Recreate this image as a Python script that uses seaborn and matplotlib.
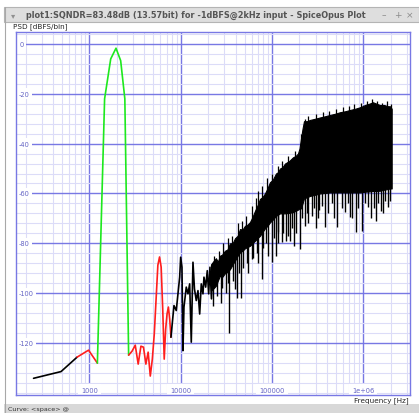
import matplotlib
matplotlib.use("Agg")
import matplotlib.pyplot as plt
from matplotlib.patches import Rectangle
from matplotlib.lines import Line2D
from matplotlib.ticker import FixedLocator, LogLocator, MultipleLocator, NullFormatter
import matplotlib.transforms as mtransforms
import seaborn as sns

# ---- data (frequency in Hz, PSD in dBFS/bin) ----
low_black_f = [244, 488, 732]
low_black_db = [-134.2, -131.5, -125.7]

low_red_f = [732, 977, 1221]
low_red_db = [-125.7, -122.9, -128.1]

signal_f = [1221, 1465, 1709, 1953, 2197, 2441, 2686]
signal_db = [-128.1, -22.0, -6.0, -1.7, -6.7, -22.0, -124.9]

harm_f = [2686, 2930, 3174, 3418, 3662, 3906, 4150, 4395, 4639, 4883, 5127,
          5371, 5615, 5859, 6104, 6348, 6592, 6836, 7080, 7324, 7568, 7813]
harm_db = [-124.9, -123.3, -120.9, -128.5, -121.3, -121.7, -128.5, -123.7, -133.3,
           -126.5, -116.5, -102.4, -88.8, -85.5, -89.6, -106.4, -126.5, -114.5,
           -108.4, -105.6, -110.4, -117.7]

noise_f = [7813, 8430, 8933, 9444, 9734, 9982, 10315, 10578, 10848, 11497, 12003,
           12527, 13045, 13614, 14137, 14795, 15446, 16126, 16791, 17524, 17968,
           18758, 19532, 20230, 20902, 21710, 22546]
noise_db = [-117.7, -105.0, -107.0, -98.3, -93.6, -85.6, -89.6, -123.1, -105.6,
            -97.6, -100.3, -96.3, -119.7, -87.6, -98.3, -103.0, -99.0, -108.4,
            -96.3, -100.3, -93.6, -97.6, -91.0, -100.3, -89.6, -102.3, -88.3]

# dense noise band: envelope of the solid black region
band_f = [21440, 23000, 24320, 25500, 26900, 28500, 30520, 32500, 34630, 37000,
          39290, 42000, 44570, 47500, 50540, 54000, 57350, 61000, 65070, 69000,
          73830, 78500, 83760, 89000, 95000, 102000, 110500, 116000, 122200,
          130000, 138700, 154000, 169700, 181000, 192400, 200000, 207600, 216000,
          224000, 242000, 260600, 298000, 335400, 383000, 431500, 493000, 555500,
          635000, 715000, 817000, 919900, 980000, 1043500, 1160000, 1276800,
          1400000, 1523600, 1690000, 1864400, 1960000, 2047700]
band_hi = [-88.5, -87, -86, -87.5, -85, -84.5, -83, -82.5, -80, -80, -78, -77,
           -74.3, -74.5, -73, -72.5, -71.5, -69.5, -67, -65, -62.2, -61.5, -60, -58,
           -55.5, -54.5, -52, -51.5, -50, -49.5, -48, -47, -45.5, -45, -44, -42,
           -38, -34, -31, -31, -30.5, -30, -29.5, -29, -28.5, -28, -27.4, -27,
           -26.5, -26, -25.4, -25, -24.5, -24, -23.4, -24, -24.5, -24.5, -25, -25,
           -26]
band_lo = [-99, -98, -97, -95, -93, -93.5, -92, -91.5, -90.4, -88.5, -87, -85,
           -83.7, -83, -82, -81.5, -81, -80, -79, -78, -77, -75.5, -74, -73, -71.6,
           -70.5, -69, -68.5, -68, -68, -68, -67.8, -67.5, -67, -66.5, -66, -66,
           -64, -62, -61.5, -61, -60.5, -60, -59.8, -59.6, -59.6, -59.6, -59.6,
           -59.6, -59.6, -59.6, -59.5, -59.3, -59.2, -59, -59, -58.9, -58.5, -58.2,
           -58, -58]

# downward spikes out of the band
spike_f = [22720, 25000, 27590, 28500, 31000, 33000, 34020, 37000, 39290, 41630,
           43000, 45700, 48000, 53000, 55000, 59850, 62000, 68000, 70000, 77040,
           80000, 87000, 90000, 99160, 105000, 110500, 115000, 117100, 127600,
           132000, 142000, 148400, 157300, 165000, 175300, 185000, 202500, 215000,
           229700, 240000, 250000, 272000, 285000, 303200, 320000, 329500, 350000,
           380500, 410000, 450000, 480000, 518800, 580000, 630100, 680000, 715000,
           760000, 831800, 880000, 974800, 1050000, 1134200, 1200000, 1300000,
           1377200, 1450000, 1550400, 1650000, 1750000, 1878500, 1950000]
spike_lo = [-105, -101, -104, -98, -100, -96, -116, -95, -98.4, -102, -92, -102,
            -90, -88, -92, -86.3, -86, -84, -88, -94.4, -82, -80, -85, -87.7, -78,
            -85, -80, -75.5, -79.6, -76, -79, -77, -79, -74, -81, -76, -82.3, -70,
            -73, -68, -72, -69, -66, -74, -70, -66.5, -65, -73.6, -68, -64, -70,
            -73.6, -66, -67.6, -64, -69.4, -70, -75.6, -66, -75, -64, -65.5, -70,
            -66, -71, -64, -67, -68, -63, -65.6, -63]
spike_hi = [-95, -94, -92, -91, -90, -89, -88, -86, -85, -84, -83, -82, -81, -80,
            -80, -79, -78, -77, -76, -74, -73, -71, -70, -69, -68, -67, -66, -66,
            -66, -66, -66, -66, -65, -65, -64, -64, -63, -61, -59, -59, -59, -59,
            -58, -58, -58, -58, -57, -57, -57, -57, -57, -57, -57, -57, -57, -57,
            -57, -57, -57, -57, -57, -57, -57, -56, -56, -56, -56, -56, -56, -56,
            -56]

# short upward hairs along the top of the band
hair_f = [23000, 26000, 29000, 33000, 36000, 42000, 47000, 52000, 60000, 66000,
          71000, 78000, 88000, 100000, 115000, 130000, 150000, 180000, 210000,
          230000, 250000, 300000, 360000, 420000, 500000, 600000, 700000, 800000,
          950000, 1100000, 1250000, 1400000, 1600000, 1800000, 2000000]
hair_hi = [-85, -83, -80, -78, -77, -72, -71, -69, -65, -62, -59, -57, -54, -52,
           -49, -47, -45, -43, -36, -30, -29, -28, -27.5, -27, -26, -25.5, -25, -24,
           -23.5, -23, -22, -23, -23.5, -23, -24]
hair_lo = [-90, -88, -86, -84, -82, -79, -77, -75, -71, -69, -66, -64, -61, -58,
           -55, -53, -51, -49, -44, -36, -35, -34, -33, -32, -31, -30, -30, -29,
           -29, -28, -28, -28, -28, -28, -28]

major_f = [1000, 10000, 100000, 1000000]
major_f_labels = ["1000", "10000", "100000", "1e+06"]
major_db = [0, -20, -40, -60, -80, -100, -120]

title = "plot1:SQNDR=83.48dB (13.57bit) for -1dBFS@2kHz input - SpiceOpus Plot"

# ---- figure layout (pixel geometry of the screenshot) ----
W, H = 419, 414
GRID_MAJOR = "#7878e4"
GRID_MINOR = "#dcdcf8"
LABEL_BLUE = "#6464c4"

sns.set_style("white")
plt.rcParams["font.family"] = ["DejaVu Sans"]

fig = plt.figure(figsize=(W / 100, H / 100), dpi=100)
fig.patch.set_facecolor("white")


def fx(px):
    return px / W


def fy(py):
    return 1 - py / H


# window chrome
fig.add_artist(Rectangle((fx(4), fy(23)), (W - 4) / W, 15 / H, transform=fig.transFigure,
                         facecolor="#dedede", edgecolor="#b4b4b4", lw=0.8))
fig.add_artist(Rectangle((fx(4), 0), (W - 4) / W, 9 / H, transform=fig.transFigure,
                         facecolor="#d8d8d8", edgecolor="none"))
fig.add_artist(Line2D([fx(4.5), fx(4.5)], [fy(8), 0], transform=fig.transFigure,
                      color="#a8a8a8", lw=0.8))
fig.text(fx(11), fy(15.5), "\u25be", fontsize=6, color="#909090", va="center")
fig.text(fx(26), fy(15.5), title, fontsize=5.85, fontweight="bold", color="#555555",
         va="center")
for px, s in [(384, "\u2013"), (398, "+"), (410, "\u00d7")]:
    fig.text(fx(px), fy(15.5), s, fontsize=6.5, color="#8c8c8c", va="center", ha="center")
fig.text(fx(13), fy(27), "PSD [dBFS/bin]", fontsize=5.2, color="#222222", va="center")
fig.text(fx(409), fy(401), "Frequency [Hz]", fontsize=5.2, color="#222222",
         va="center", ha="right")
fig.text(fx(8), fy(409.5), "Curve: <space> @", fontsize=4.6, color="#333333", va="center")

# plot area
ax = fig.add_axes([fx(16), fy(396), (410 - 16) / W, (396 - 33) / H])

sns.lineplot(x=low_black_f, y=low_black_db, color="black", lw=1.2, ax=ax, estimator=None)
sns.lineplot(x=low_red_f, y=low_red_db, color="#ff1e1e", lw=1.2, ax=ax, estimator=None)
sns.lineplot(x=signal_f, y=signal_db, color="#1ee81e", lw=1.2, ax=ax, estimator=None)
sns.lineplot(x=harm_f, y=harm_db, color="#ff1e1e", lw=1.2, ax=ax, estimator=None)
sns.lineplot(x=noise_f, y=noise_db, color="black", lw=1.2, ax=ax, estimator=None)
ax.fill_between(band_f, band_lo, band_hi, color="black", lw=0.8, zorder=2)
ax.vlines(spike_f, spike_lo, spike_hi, color="black", lw=1.0, zorder=2)
ax.vlines(hair_f, hair_lo, hair_hi, color="black", lw=0.9, zorder=2)

ax.set_xscale("log")
ax.set_xlim(156.7, 3.25e6)
ax.set_ylim(-140.9, 4.8)

ax.xaxis.set_major_locator(FixedLocator(major_f))
ax.xaxis.set_minor_locator(LogLocator(base=10, subs=range(2, 10), numticks=30))
ax.xaxis.set_minor_formatter(NullFormatter())
ax.yaxis.set_major_locator(FixedLocator(major_db))
ax.yaxis.set_minor_locator(MultipleLocator(4))
ax.tick_params(which="both", length=0, labelbottom=False, labelleft=False)
ax.set_xlabel("")
ax.set_ylabel("")
ax.set_axisbelow(True)
ax.grid(which="minor", color=GRID_MINOR, lw=0.8)
ax.grid(which="major", color=GRID_MAJOR, lw=1.0)
for sp in ax.spines.values():
    sp.set_color(GRID_MAJOR)
    sp.set_linewidth(1.0)

# in-plot tick labels on white boxes
ytrans = mtransforms.blended_transform_factory(ax.transAxes, ax.transData)
for v in major_db:
    ax.text(0.008, v, str(v), transform=ytrans, fontsize=4.8, color=LABEL_BLUE,
            va="center", ha="left", zorder=1.5,
            bbox=dict(boxstyle="square,pad=0.35", fc="white", ec="none"))
xtrans = mtransforms.blended_transform_factory(ax.transData, ax.transAxes)
for v, s in zip(major_f, major_f_labels):
    ax.text(v, 0.014, s, transform=xtrans, fontsize=4.8, color=LABEL_BLUE,
            va="center", ha="center", zorder=1.5,
            bbox=dict(boxstyle="square,pad=0.45", fc="white", ec="none"))

fig.savefig("out.png", dpi=100)
